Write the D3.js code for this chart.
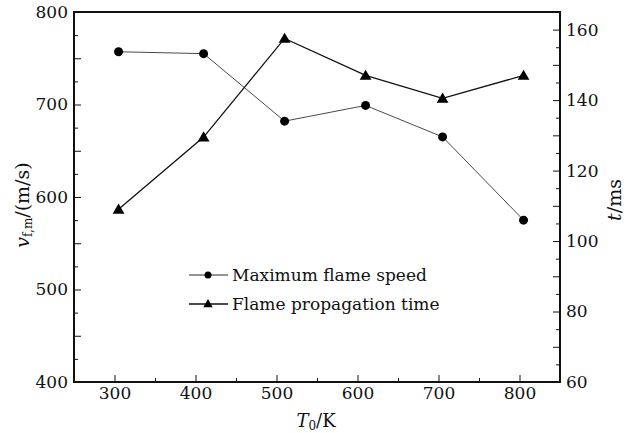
<!DOCTYPE html>
<html>
<head>
<meta charset="utf-8">
<script src="https://cdn.jsdelivr.net/npm/d3@7"></script>
<style>
  body { margin: 0; background: #fff; }
  text { font-family: "DejaVu Serif", serif; fill: #111; }
  .axis path, .axis line { stroke: #111; }
  .axis text { font-size: 17px; }
</style>
</head>
<body>
<div id="chart"></div>
<script>
// data
var temps = [305, 410, 510, 610, 705, 805];
var maxSpeed = [757, 755, 682, 699, 665, 575];
var propTime = [109, 129.5, 157.5, 147, 140.5, 147];

var xTicks = [300, 400, 500, 600, 700, 800];
var leftTicks = [400, 500, 600, 700, 800];
var rightTicks = [60, 80, 100, 120, 140, 160];

var seriesNames = ["Maximum flame speed", "Flame propagation time"];

var width = 630, height = 433;
var plotLeft = 74, plotRight = 560, plotTop = 12, plotBottom = 382;

var svg = d3.select("#chart").append("svg")
    .attr("width", width)
    .attr("height", height);

var x = d3.scaleLinear().domain([250, 850]).range([plotLeft, plotRight]);
var yL = d3.scaleLinear().domain([400, 800]).range([plotBottom, plotTop]);
var yR = d3.scaleLinear().domain([60, 165]).range([plotBottom, plotTop]);

// minor ticks first, majors on top
svg.append("g")
    .attr("class", "axis")
    .attr("transform", "translate(0," + plotBottom + ")")
    .call(d3.axisBottom(x).tickValues(d3.range(350, 850, 100)).tickSize(-4).tickFormat(""))
    .call(function(g) { g.select(".domain").remove(); });

svg.append("g")
    .attr("class", "axis")
    .attr("transform", "translate(0," + plotBottom + ")")
    .call(d3.axisBottom(x).tickValues(xTicks).tickSize(-7).tickPadding(5).tickSizeOuter(0))
    .call(function(g) { g.select(".domain").remove(); });

svg.append("g")
    .attr("class", "axis")
    .attr("transform", "translate(" + plotLeft + ",0)")
    .call(d3.axisLeft(yL).tickValues(d3.range(425, 800, 50)).tickSize(-4).tickFormat(""))
    .call(function(g) { g.select(".domain").remove(); });

svg.append("g")
    .attr("class", "axis")
    .attr("transform", "translate(" + plotLeft + ",0)")
    .call(d3.axisLeft(yL).tickValues(d3.range(400, 801, 50)).tickSize(-7).tickPadding(6)
      .tickFormat(function(d) { return leftTicks.indexOf(d) >= 0 ? d : ""; }))
    .call(function(g) { g.select(".domain").remove(); });

svg.append("g")
    .attr("class", "axis")
    .attr("transform", "translate(" + plotRight + ",0)")
    .call(d3.axisRight(yR).tickValues(d3.range(65, 165, 10)).tickSize(-4).tickFormat(""))
    .call(function(g) { g.select(".domain").remove(); });

svg.append("g")
    .attr("class", "axis")
    .attr("transform", "translate(" + plotRight + ",0)")
    .call(d3.axisRight(yR).tickValues(d3.range(60, 161, 10)).tickSize(-7).tickPadding(6)
      .tickFormat(function(d) { return rightTicks.indexOf(d) >= 0 ? d : ""; }))
    .call(function(g) { g.select(".domain").remove(); });

// frame
svg.append("rect")
    .attr("x", plotLeft).attr("y", plotTop)
    .attr("width", plotRight - plotLeft).attr("height", plotBottom - plotTop)
    .style("fill", "none")
    .style("stroke", "#111")
    .style("stroke-width", 2);

// series lines
var speedLine = d3.line()
    .x(function(d, i) { return x(temps[i]); })
    .y(function(d) { return yL(d); });

var timeLine = d3.line()
    .x(function(d, i) { return x(temps[i]); })
    .y(function(d) { return yR(d); });

svg.append("path")
    .datum(maxSpeed)
    .attr("d", speedLine)
    .style("fill", "none")
    .style("stroke", "#333")
    .style("stroke-width", 0.9);

svg.append("path")
    .datum(propTime)
    .attr("d", timeLine)
    .style("fill", "none")
    .style("stroke", "#111")
    .style("stroke-width", 1.3);

var tri = d3.symbol().type(d3.symbolTriangle).size(60);

svg.selectAll(".dot").data(maxSpeed).enter()
    .append("circle")
    .attr("class", "dot")
    .attr("cx", function(d, i) { return x(temps[i]); })
    .attr("cy", function(d) { return yL(d); })
    .attr("r", 4.5)
    .style("fill", "#000");

svg.selectAll(".tri").data(propTime).enter()
    .append("path")
    .attr("class", "tri")
    .attr("d", tri)
    .attr("transform", function(d, i) {
      return "translate(" + x(temps[i]) + "," + (yR(d) + 1) + ")";
    })
    .style("fill", "#000");

// legend
var legend = svg.append("g");
var rows = [275, 304];

rows.forEach(function(ly, i) {
  legend.append("line")
    .attr("x1", 189).attr("x2", 228)
    .attr("y1", ly).attr("y2", ly)
    .style("stroke", "#111")
    .style("stroke-width", i == 0 ? 0.9 : 1.3);
  if (i == 0) {
    legend.append("circle")
      .attr("cx", 208).attr("cy", ly).attr("r", 3.5)
      .style("fill", "#000");
  } else {
    legend.append("path")
      .attr("d", d3.symbol().type(d3.symbolTriangle).size(38))
      .attr("transform", "translate(208," + (ly + 0.5) + ")")
      .style("fill", "#000");
  }
  legend.append("text")
    .attr("x", 232).attr("y", ly + 6)
    .style("font-size", "17px")
    .text(seriesNames[i]);
});

// axis titles
var xt = svg.append("text")
    .attr("x", 316).attr("y", 427)
    .attr("text-anchor", "middle")
    .style("font-size", "18px");
xt.append("tspan").style("font-style", "italic").text("T");
xt.append("tspan").attr("baseline-shift", "-25%").style("font-size", "12px").text("0");
xt.append("tspan").text("/K");

var yt = svg.append("text")
    .attr("transform", "translate(29,205) rotate(-90)")
    .attr("text-anchor", "middle")
    .style("font-size", "19px");
yt.append("tspan").style("font-style", "italic").text("v");
yt.append("tspan").attr("baseline-shift", "-25%").style("font-size", "12px").text("f,m");
yt.append("tspan").text("/(m/s)");

var rt = svg.append("text")
    .attr("transform", "translate(621,200) rotate(-90)")
    .attr("text-anchor", "middle")
    .style("font-size", "19px");
rt.append("tspan").style("font-style", "italic").text("t");
rt.append("tspan").text("/ms");
</script>
</body>
</html>
